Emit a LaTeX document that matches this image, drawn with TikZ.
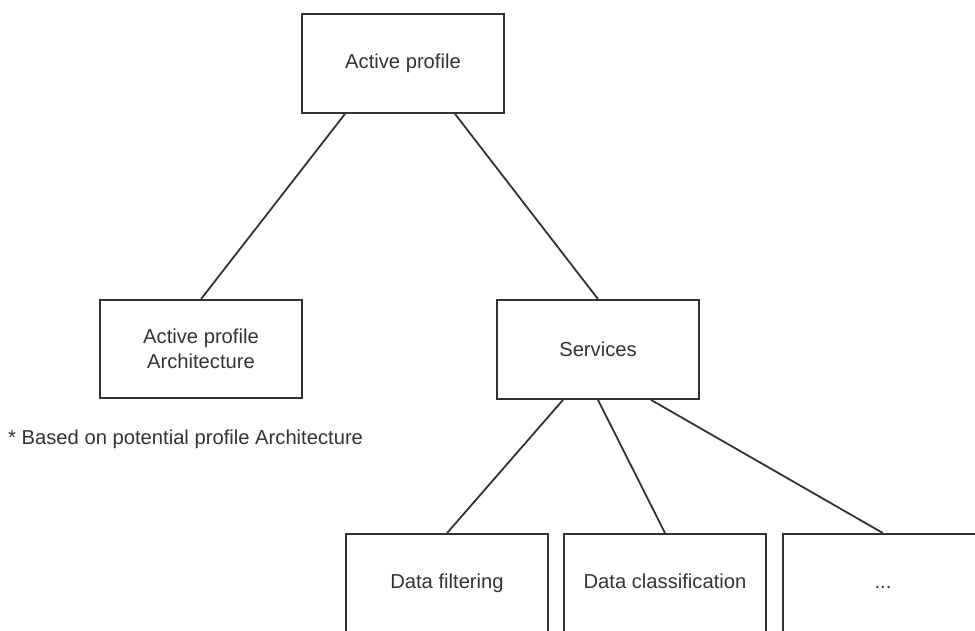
\documentclass[tikz,border=0pt]{standalone}
\usepackage{fontspec}
\setmainfont{Liberation Sans}
\definecolor{ink}{HTML}{333333}
\begin{document}
\begin{tikzpicture}[x=1pt,y=-1pt,
  box/.style={draw=ink, line width=1.8pt, rectangle, minimum height=99pt, align=center, text=ink, font=\fontsize{20.2}{25}\selectfont},
  leaf/.style={box, minimum width=202pt, text height=14.5pt, text depth=4.2pt},
  link/.style={draw=ink, line width=1.8pt}]
\clip (0,0) rectangle (975,630);
\node[box, minimum width=202pt] (top) at (403,63.5){Active profile};
\node[box, minimum width=202pt, minimum height=98pt] (arch) at (201,349){Active profile\\Architecture};
\node[box, minimum width=202pt] (serv) at (598,349.5){Services};
\draw[link]([xshift=-58pt]top.south) -- (arch.north);
\draw[link]([xshift=52pt]top.south) -- (serv.north);
\node[anchor=west, inner sep=0pt, text=ink, font=\fontsize{20.2}{25}\selectfont] (note) at (8,439){* Based on potential profile Architecture};
\node[leaf] (filt) at (447,583.5){Data filtering};
\node[leaf] (cls) at (665,583.5){Data classification};
\node[leaf, minimum width=200pt] (more) at (883,583.5){...};
\draw[link]([xshift=-35pt]serv.south) -- (filt.north);
\draw[link](serv.south) -- (cls.north);
\draw[link]([xshift=53pt]serv.south) -- (more.north);
\end{tikzpicture}
\end{document}
